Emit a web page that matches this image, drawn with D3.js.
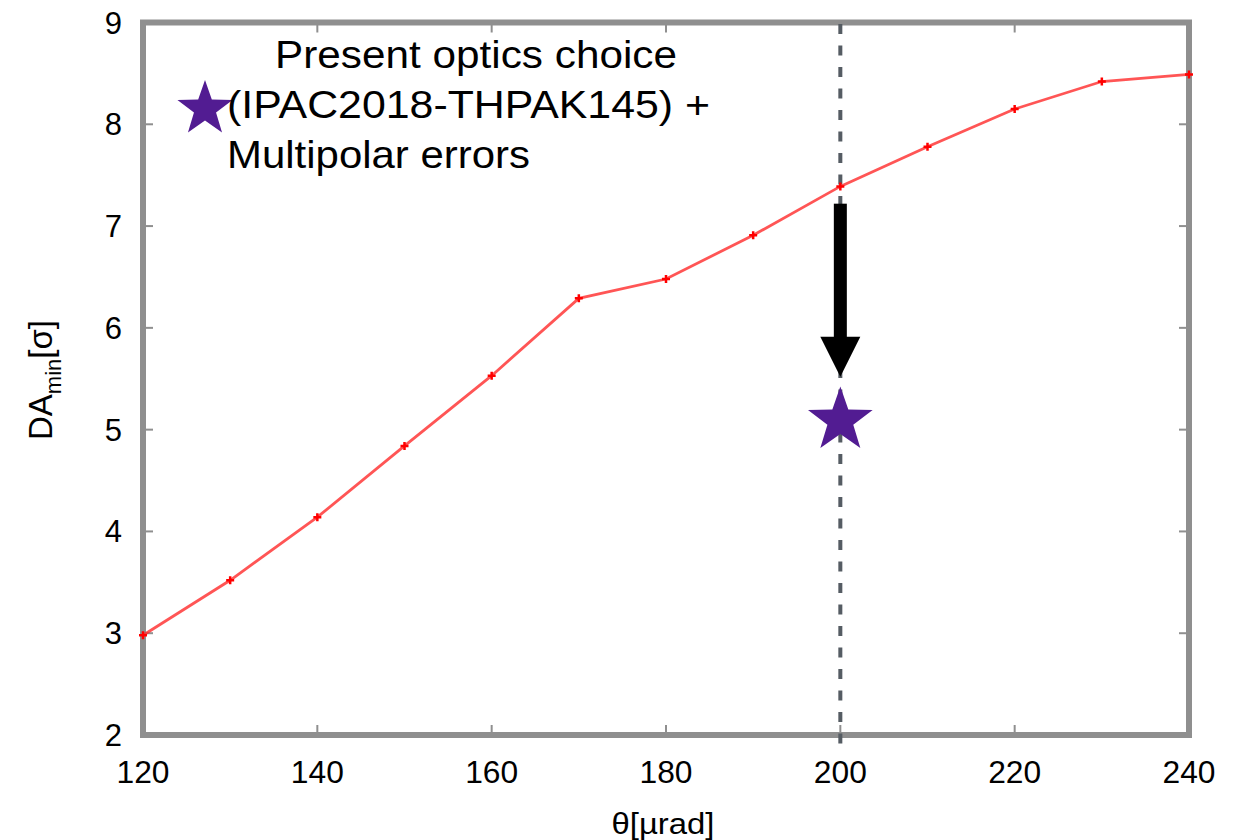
<!DOCTYPE html>
<html>
<head>
<meta charset="utf-8">
<script src="https://cdn.jsdelivr.net/npm/d3@7"></script>
<style>
  body { margin: 0; background: #fff; }
  svg { display: block; font-family: "Liberation Sans", Arial, sans-serif; }
</style>
</head>
<body>
<svg id="chart"></svg>
<script>
const WIDTH = 1253;
const HEIGHT = 840;

// Values.
const thetas = [120, 130, 140, 150, 160, 170, 180, 190, 200, 210, 220, 230, 240];
const daMin = [2.98, 3.52, 4.14, 4.84, 5.53, 6.29, 6.48, 6.91, 7.39, 7.78, 8.15, 8.42, 8.49];
const xTicks = [120, 140, 160, 180, 200, 220, 240];
const yTicks = [2, 3, 4, 5, 6, 7, 8, 9];
const starPoint = {theta: 200, da: 5.12};
const arrowFrom = 7.22;
const arrowTo = 5.52;
const legendLines = ['Present optics choice', '(IPAC2018-THPAK145) +', 'Multipolar errors'];

const svg = d3.select('#chart').attr('width', WIDTH).attr('height', HEIGHT);

const x = d3.scaleLinear().domain([120, 240]).range([143, 1189]);
const y = d3.scaleLinear().domain([2, 9]).range([735, 22.5]);

const frameColor = '#8f8f8f';

// Small inner ticks on all four sides.
const ticks = svg.append('g').attr('stroke', frameColor).attr('stroke-width', 2);
xTicks.slice(1, -1).forEach(t => {
  ticks.append('line').attr('x1', x(t)).attr('x2', x(t)).attr('y1', 735).attr('y2', 725);
  ticks.append('line').attr('x1', x(t)).attr('x2', x(t)).attr('y1', 22.5).attr('y2', 32.5);
});
yTicks.slice(1, -1).forEach(t => {
  ticks.append('line').attr('x1', 143).attr('x2', 153).attr('y1', y(t)).attr('y2', y(t));
  ticks.append('line').attr('x1', 1189).attr('x2', 1179).attr('y1', y(t)).attr('y2', y(t));
});

// Frame
svg.append('rect')
  .attr('x', 143).attr('y', 22.5)
  .attr('width', 1189 - 143).attr('height', 735 - 22.5)
  .attr('fill', 'none')
  .attr('stroke', frameColor)
  .attr('stroke-width', 6);

// Tick labels
svg.append('g').selectAll('text').data(xTicks).join('text')
  .attr('x', d => x(d)).attr('y', 783)
  .attr('text-anchor', 'middle')
  .attr('font-size', 31)
  .attr('textLength', 53)
  .attr('lengthAdjust', 'spacingAndGlyphs')
  .text(d => d);

svg.append('g').selectAll('text').data(yTicks).join('text')
  .attr('x', 122).attr('y', d => y(d) + 11)
  .attr('text-anchor', 'end')
  .attr('font-size', 31)
  .text(d => d);

// Axis titles
svg.append('text')
  .attr('x', 663).attr('y', 834)
  .attr('text-anchor', 'middle')
  .attr('font-size', 29)
  .attr('textLength', 103)
  .attr('lengthAdjust', 'spacingAndGlyphs')
  .text('θ[µrad]');

const yTitle = svg.append('text')
  .attr('transform', 'translate(52,380) rotate(-90)')
  .attr('text-anchor', 'middle')
  .attr('font-size', 33);
yTitle.append('tspan').text('DA');
yTitle.append('tspan').attr('font-size', 22).attr('dy', 9).text('min');
yTitle.append('tspan').attr('dy', -9).text('[σ]');

// Dashed vertical line at 200
svg.append('line')
  .attr('x1', x(200)).attr('x2', x(200))
  .attr('y1', 24).attr('y2', 746)
  .attr('stroke', '#555c63')
  .attr('stroke-width', 4)
  .attr('stroke-dasharray', '10,11.5');

// Red data line
const line = d3.line().x((d, i) => x(thetas[i])).y(d => y(d));
svg.append('path')
  .datum(daMin)
  .attr('d', line)
  .attr('fill', 'none')
  .attr('stroke', '#ff2a2a')
  .attr('stroke-opacity', 0.8)
  .attr('stroke-width', 2.8);

svg.append('g').attr('stroke', '#ff0000').attr('stroke-width', 2.5)
  .selectAll('path').data(daMin).join('path')
  .attr('d', (d, i) => {
    const cx = x(thetas[i]), cy = y(d);
    return `M${cx - 4},${cy}H${cx + 4}M${cx},${cy - 4}V${cy + 4}`;
  });

// Star shape helper
function starPath(cx, cy, r) {
  const inner = r * 0.4;
  const pts = d3.range(10).map(k => {
    const a = -Math.PI / 2 + k * Math.PI / 5;
    const rr = k % 2 === 0 ? r : inner;
    return [cx + rr * Math.cos(a), cy + rr * Math.sin(a)];
  });
  return 'M' + pts.join('L') + 'Z';
}

const starColor = '#521c92';

// Black arrow
const ax = x(200);
const yStart = y(arrowFrom), yTip = y(arrowTo);
svg.append('rect')
  .attr('x', ax - 6.5).attr('y', yStart)
  .attr('width', 13).attr('height', (yTip - 40) - yStart + 1)
  .attr('fill', '#000');
svg.append('path')
  .attr('d', `M${ax - 20},${yTip - 40}L${ax + 20},${yTip - 40}L${ax},${yTip}Z`)
  .attr('fill', '#000');

// Star data point
svg.append('path')
  .attr('d', starPath(x(starPoint.theta), y(starPoint.da) + 3, 34))
  .attr('fill', starColor);

// Legend
svg.append('path')
  .attr('d', starPath(205, 109, 29))
  .attr('fill', starColor);

const legendPos = [[275, 68, 402], [227, 118, 483], [227, 168, 303]];
svg.append('g').selectAll('text').data(legendLines).join('text')
  .attr('x', (d, i) => legendPos[i][0])
  .attr('y', (d, i) => legendPos[i][1])
  .attr('font-size', 39)
  .attr('textLength', (d, i) => legendPos[i][2])
  .attr('lengthAdjust', 'spacingAndGlyphs')
  .text(d => d);
</script>
</body>
</html>
